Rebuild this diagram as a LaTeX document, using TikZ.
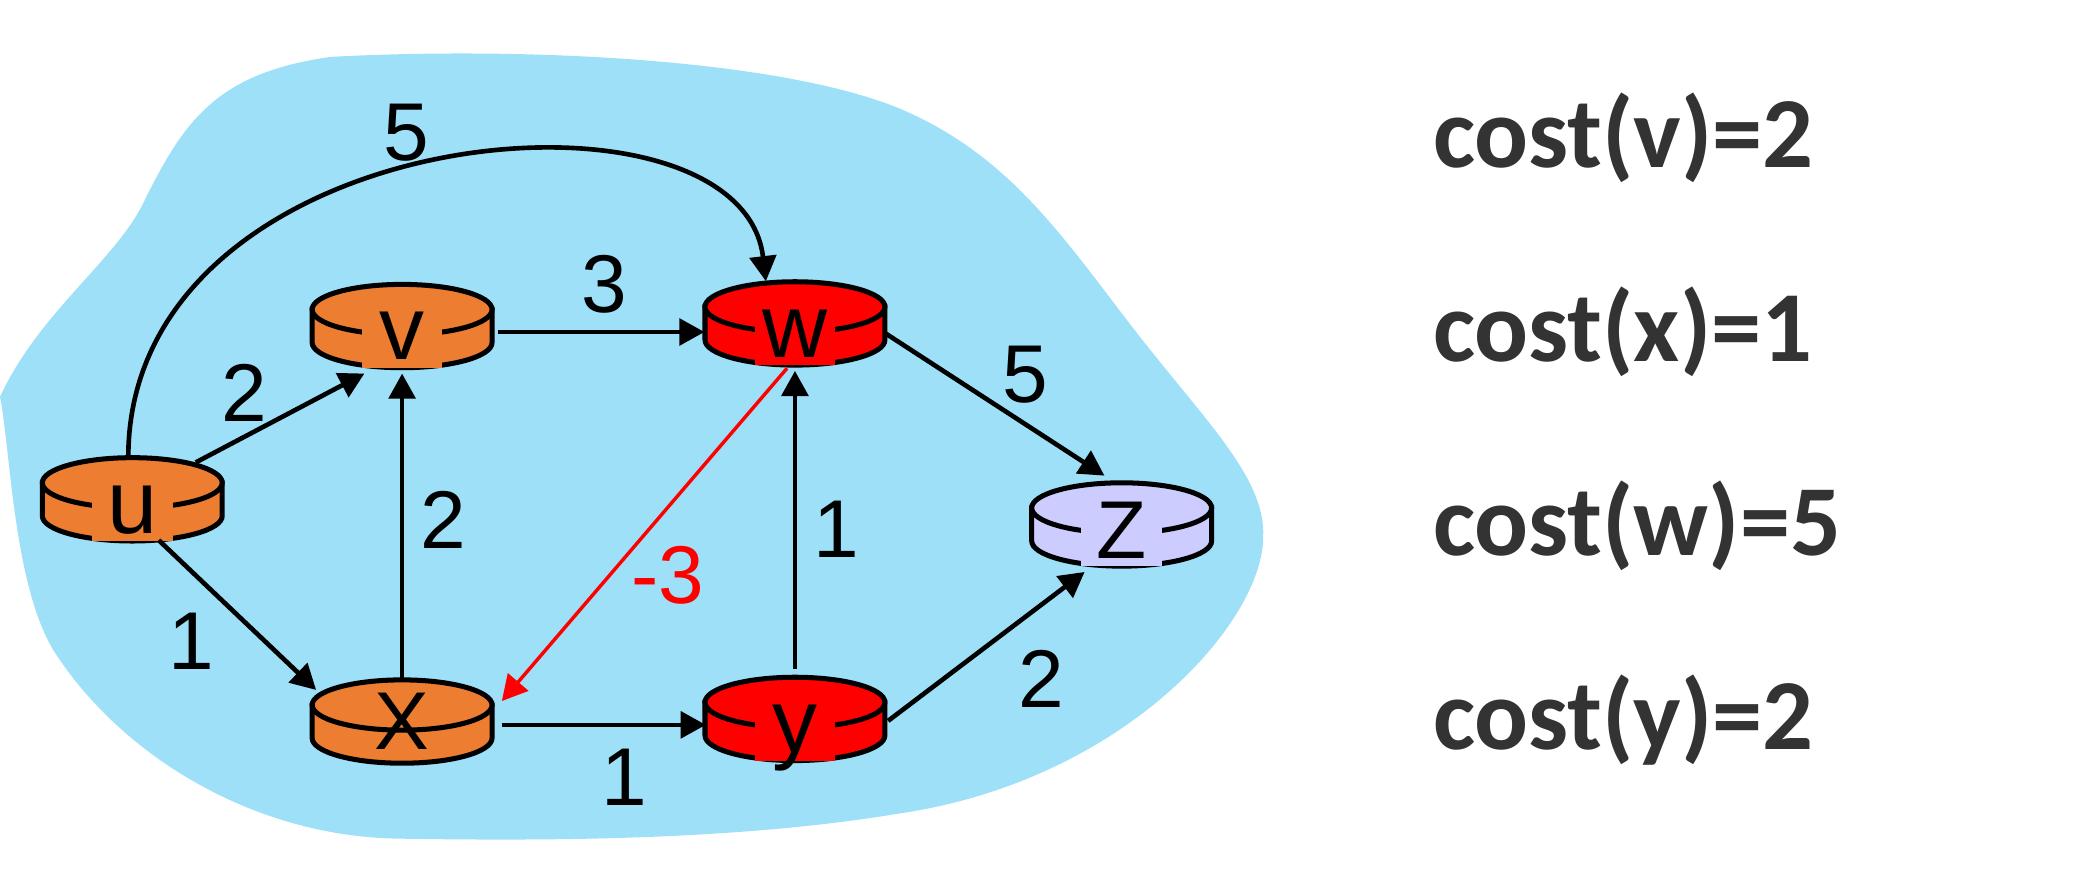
\documentclass[tikz,border=0pt]{standalone}
\usepackage{fontspec}
\setmainfont{Liberation Sans}
\newfontfamily\costfont{Carlito}
\usetikzlibrary{arrows.meta}
\definecolor{cloudblue}{RGB}{158,224,248}
\definecolor{rorange}{RGB}{237,125,49}
\definecolor{rred}{RGB}{255,0,0}
\definecolor{rlilac}{RGB}{204,204,255}
\definecolor{costgrey}{RGB}{51,51,51}
\tikzset{
  rlabel/.style={inner sep=0pt,text height=14pt,text depth=3pt,minimum width=30.5pt,anchor=base,font=\fontsize{34}{36}\selectfont},
  link/.style={line width=1.75pt,-{Triangle[length=9.5pt,width=10pt]}},
  weight/.style={font=\fontsize{31}{33}\selectfont},
  cost/.style={anchor=base west,inner sep=0pt,text=costgrey,font=\costfont\bfseries\fontsize{38}{40}\selectfont}
}
% router: [label options]{name}{x}{y}{fill}{label}
\newcommand{\router}[6][]{%
  \begin{scope}[shift={(#3,#4)}]
    \filldraw[fill=#5,line width=1.9pt] (-68,0) -- (-68,25) arc[start angle=180,end angle=0,x radius=68,y radius=19] -- (68,0) -- cycle;
    \filldraw[fill=#5,line width=1.9pt] (0,0) ellipse[x radius=68,y radius=19];
    \node[rlabel,fill=#5,#1] at (0,38) {#6};
    \node[inner sep=0pt,minimum width=68pt,minimum height=31.5pt] (#2) at (0,12.5) {};
  \end{scope}}
\begin{document}
\begin{tikzpicture}[x=0.5pt,y=-0.5pt]
\useasboundingbox (0,0) rectangle (1568,660);
% network cloud
\fill[cloudblue] (0,300) .. controls (30,235) and (90,195) .. (110,150)
  .. controls (140,90) and (165,55) .. (250,43)
  .. controls (400,35) and (590,45) .. (680,82)
  .. controls (770,120) and (810,190) .. (870,265)
  .. controls (918,325) and (957,365) .. (955,406)
  .. controls (955,470) and (850,590) .. (680,615)
  .. controls (560,635) and (420,636) .. (300,634)
  .. controls (190,632) and (90,570) .. (40,491)
  .. controls (10,440) and (8,340) .. (0,300) -- cycle;
% routers
\router{u}{100}{365}{rorange}{u}
\router{v}{304}{234}{rorange}{v}
\router{w}{601}{232}{rred}{w}
\router[fill=none,yshift=2pt,font=\fontsize{31}{33}\selectfont]{x}{304}{533}{rorange}{X}
\router{y}{601}{531}{rred}{y}
\router[font=\fontsize{31}{33}\selectfont]{z}{848}{384}{rlilac}{Z}
% links
\draw[link] ([shift={(48,4)}]u.north) -- ([shift={(-28.5,4)}]v.south);
\draw[link] ([shift={(-3,0)}]u.north) .. controls (97,90) and (560,50) .. ([shift={(-22,0)}]w.north);
\draw[link] ([shift={(20,-1)}]u.south) -- ([shift={(-65,8)}]x.north);
\draw[link] (x.north) -- ([shift={(0,4)}]v.south);
\draw[link] ([shift={(4,4.5)}]v.east) -- ([shift={(0,6.5)}]w.west);
\draw[link,red,line width=1.3pt] ([shift={(-6,2)}]w.south) -- ([shift={(7,-15.5)}]x.east);
\draw[link] ([shift={(0,7.5)}]w.east) -- ([shift={(-13,-5)}]z.north);
\draw[link] ([shift={(0,-6)}]y.north) -- ([shift={(0,4)}]w.south);
\draw[link] ([shift={(7,2.5)}]x.east) -- ([shift={(1,4.5)}]y.west);
\draw[link] ([shift={(2,1.5)}]y.east) -- ([shift={(-28,4)}]z.south);
% weights
\node[weight] (w-uw) at (307,100) {5};
\node[weight] (w-uv) at (185,297) {2};
\node[weight] (w-vw) at (457,215) {3};
\node[weight] (w-xv) at (335,393) {2};
\node[weight] (w-ux) at (145,485) {1};
\node[weight,text=red] (w-wx) at (505,435) {-3};
\node[weight] (w-wz) at (775,283) {5};
\node[weight] (w-yw) at (632,400) {1};
\node[weight] (w-xy) at (472,588) {1};
\node[weight] (w-yz) at (787,513) {2};
% costs
\node[cost] (c-v) at (1083,127) {cost(v)=2};
\node[cost] (c-x) at (1083,273) {cost(x)=1};
\node[cost] (c-w) at (1083,420) {cost(w)=5};
\node[cost] (c-y) at (1083,567) {cost(y)=2};
\end{tikzpicture}
\end{document}
